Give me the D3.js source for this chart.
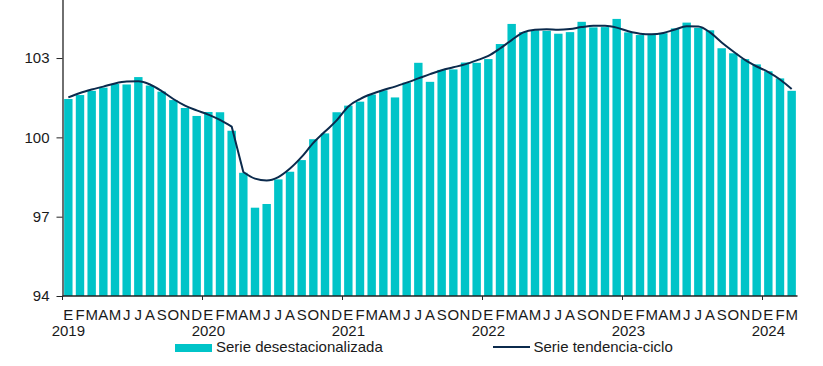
<!DOCTYPE html>
<html>
<head>
<meta charset="utf-8">
<script src="https://cdn.jsdelivr.net/npm/d3@7"></script>
<style>
  body { margin: 0; background: #fff; }
  svg { display: block; font-family: "Liberation Sans", Arial, sans-serif; }
</style>
</head>
<body>
<script>
// Meses (ene 2019 - mar 2024)
const years = [2019, 2020, 2021, 2022, 2023, 2024];
const monthLetters = ["E", "F", "M", "A", "M", "J", "J", "A", "S", "O", "N", "D"];

// Serie desestacionalizada
const seasonal = [
  101.45, 101.60, 101.76, 101.88, 102.02, 102.00, 102.28, 101.96, 101.73, 101.41, 101.11, 100.81,
  100.96, 100.95, 100.25, 98.66, 97.34, 97.48, 98.41, 98.70, 99.14, 99.93, 100.15, 100.95,
  101.20, 101.35, 101.62, 101.78, 101.51, 102.07, 102.82, 102.10, 102.55, 102.57, 102.83, 102.82,
  102.96, 103.53, 104.29, 103.98, 104.05, 104.03, 103.92, 103.98, 104.37, 104.16, 104.17, 104.48,
  103.97, 103.87, 103.87, 103.94, 104.12, 104.34, 104.14, 104.05, 103.37, 103.18, 102.96, 102.76,
  102.50, 102.23, 101.76
];

// Serie tendencia-ciclo
const trend = [
  101.51, 101.68, 101.81, 101.92, 102.04, 102.11, 102.12, 102.00, 101.75, 101.45, 101.20, 101.02,
  100.86, 100.66, 100.41, 98.69, 98.44, 98.37, 98.50, 98.82, 99.26, 99.79, 100.22, 100.64,
  101.17, 101.45, 101.64, 101.79, 101.92, 102.07, 102.23, 102.39, 102.54, 102.65, 102.76, 102.91,
  103.08, 103.36, 103.68, 103.97, 104.07, 104.09, 104.07, 104.10, 104.17, 104.22, 104.22, 104.15,
  104.01, 103.92, 103.90, 103.95, 104.08, 104.20, 104.19, 103.97, 103.59, 103.25, 102.93, 102.68,
  102.47, 102.19, 101.83
];

const yTicks = [94, 97, 100, 103];
const legendLabels = ["Serie desestacionalizada", "Serie tendencia-ciclo"];

const barColor = "#00c4c8";
const lineColor = "#0b2a4c";
const textColor = "#1a1a1a";

const width = 823, height = 366;

// build month keys
const months = seasonal.map((d, i) => ({
  key: i,
  year: years[Math.floor(i / 12)],
  m: i % 12,
  s: d,
  t: trend[i]
}));

const svg = d3.select("body").append("svg")
  .attr("width", width)
  .attr("height", height);

const x = d3.scaleBand()
  .domain(months.map(d => d.key))
  .range([62.5, 797.5])
  .paddingInner(0.28)
  .paddingOuter(0.14);

const y = d3.scaleLinear()
  .domain([94, 106])
  .range([296, 296 - 12 * 26.44]);

// bars
svg.append("g")
  .selectAll("rect")
  .data(months)
  .join("rect")
  .attr("x", d => x(d.key))
  .attr("width", x.bandwidth())
  .attr("y", d => y(d.s))
  .attr("height", d => y(94) - y(d.s))
  .attr("fill", barColor);

// trend line: smooth, with a break (straight drop) between mar and abr 2020
const cx = d => x(d.key) + x.bandwidth() / 2;
const smooth = d3.line()
  .x(cx)
  .y(d => y(d.t))
  .curve(d3.curveMonotoneX);

const seg1 = months.slice(0, 15);
const seg2 = months.slice(15);
svg.append("path")
  .attr("d", smooth(seg1) + smooth(seg2).replace(/^M/, "L"))
  .attr("fill", "none")
  .attr("stroke", lineColor)
  .attr("stroke-width", 2)
  .attr("stroke-linejoin", "round");

// y axis
const yAxis = svg.append("g")
  .attr("transform", "translate(62.5,0)")
  .call(d3.axisLeft(y).tickValues(yTicks).tickSize(6).tickPadding(7).tickSizeOuter(0));
yAxis.select(".domain").attr("stroke", "#222").attr("stroke-width", 1.3);
yAxis.selectAll(".tick line").attr("stroke", "#222");
yAxis.selectAll(".tick text")
  .attr("fill", textColor)
  .style("font-size", "15px")
  .style("font-family", "Liberation Sans, Arial, sans-serif");

// x axis line + year boundary ticks
const yearX = d3.scaleLinear().domain([2019, 2019 + 63 / 12]).range([62.5, 797.5]);
svg.append("line")
  .attr("x1", 62.5).attr("x2", 797.5)
  .attr("y1", 296).attr("y2", 296)
  .attr("stroke", "#222").attr("stroke-width", 1.3);
svg.append("g")
  .selectAll("line")
  .data(years)
  .join("line")
  .attr("x1", d => yearX(d)).attr("x2", d => yearX(d))
  .attr("y1", 296).attr("y2", 300)
  .attr("stroke", "#222");

// month letters
svg.append("g")
  .selectAll("text")
  .data(months)
  .join("text")
  .attr("x", cx)
  .attr("y", 319.5)
  .attr("text-anchor", "middle")
  .attr("fill", textColor)
  .style("font-size", "15px")
  .text(d => monthLetters[d.m]);

// years (under January)
svg.append("g")
  .selectAll("text")
  .data(months.filter(d => d.m === 0))
  .join("text")
  .attr("x", cx)
  .attr("y", 336)
  .attr("text-anchor", "middle")
  .attr("fill", textColor)
  .style("font-size", "15px")
  .text(d => d.year);

// legend
const leg = svg.append("g");
leg.append("rect")
  .attr("x", 175).attr("y", 344)
  .attr("width", 37).attr("height", 8)
  .attr("fill", barColor);
leg.append("text")
  .attr("x", 216).attr("y", 352)
  .attr("fill", textColor)
  .style("font-size", "15px")
  .text(legendLabels[0]);
leg.append("line")
  .attr("x1", 493).attr("x2", 530)
  .attr("y1", 347).attr("y2", 347)
  .attr("stroke", lineColor).attr("stroke-width", 2);
leg.append("text")
  .attr("x", 533.5).attr("y", 352)
  .attr("fill", textColor)
  .style("font-size", "15px")
  .text(legendLabels[1]);
</script>
</body>
</html>
